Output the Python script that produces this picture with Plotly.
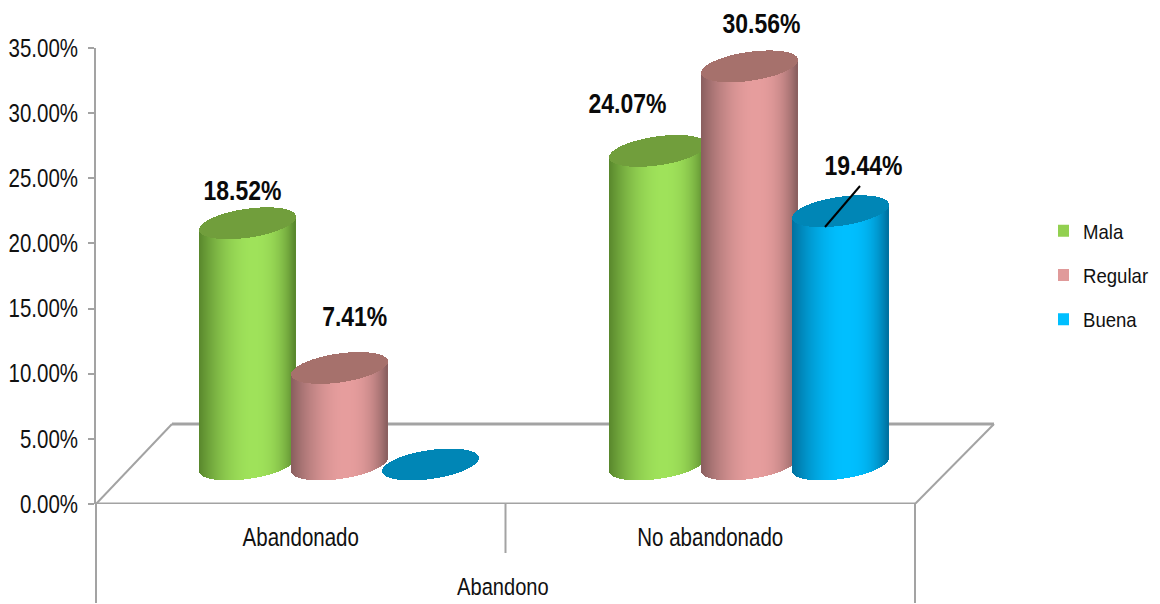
import plotly.graph_objects as go

categories = ["Abandonado", "No abandonado"]
series_names = ["Mala", "Regular", "Buena"]
mala = [18.52, 24.07]
regular = [7.41, 30.56]
buena = [0.0, 19.44]
y_ticks = [0, 5, 10, 15, 20, 25, 30, 35]

# label offsets from each cylinder's top (px)
label_dx = [[-6, -31], [15, 12], [0, 22]]
label_dy = [[33, 47], [51, 43], [0, 46]]

W, H = 1160, 604
L, R, T, B = 96, 1160, 48, 504
PX_X = (915 - 96) / 2
PX_Y = (B - T) / 35
FONT = "Liberation Sans, Arial, sans-serif"
GRAY = "#A3A3A3"
TEXT = "#111111"


def xd(px):
    return (px - L) / PX_X


def yd(px):
    return (B - px) / PX_Y


def xp(data_x):
    return data_x * PX_X / (R - L)


def yp(px):
    return (B - px) / (B - T)


styles = [
    dict(legend="#92D050", dark=(88, 134, 44), light=(159, 226, 90), top="#719E3C"),
    dict(legend="#E09A9A", dark=(136, 94, 94), light=(230, 157, 157), top="#A6716C"),
    dict(legend="#00BFFF", dark=(0, 112, 158), light=(0, 191, 255), top="#0086B6"),
]

depth_x = xd(172)
depth_y = yd(424)
base_level = yd(464.5)
half_w = 48 / PX_X
semi_b = 14.5 / PX_Y
tilt = 6.5 / PX_Y
group_gap = 91.5 / PX_X
group_step = 410 / PX_X
first_center = xd(339.5)
n_slices = 96


def mix(dark, light, f):
    return "rgb(%d,%d,%d)" % tuple(round(d + (l - d) * f) for d, l in zip(dark, light))


fig = go.Figure()
for g in range(len(categories)):
    center = first_center + g * group_step
    for s, values in enumerate([mala, regular, buena]):
        st = styles[s]
        cx = center + (s - 1) * group_gap
        top_level = base_level + values[g]
        xs, body_base, body_h, colors, top_base, top_h = [], [], [], [], [], []
        for i in range(n_slices):
            u = -1 + (2 * i + 1) / n_slices
            half = semi_b * (1 - u * u) ** 0.5
            slope = tilt * u
            xs.append(cx + u * half_w)
            lo = base_level + slope - half
            body_base.append(lo)
            body_h.append(top_level + slope - lo)
            peak = 0.1
            if u > peak:
                f = 1 - ((u - peak) / (1 - peak)) ** 2.6
            else:
                f = 1 - ((peak - u) / (1 + peak)) ** 1.8
            colors.append(mix(st["dark"], st["light"], f))
            top_base.append(top_level + slope - half)
            top_h.append(2 * half)
        w = 2 * half_w / n_slices * 1.08
        fig.add_bar(x=xs, y=body_h, base=body_base, width=w, marker=dict(color=colors, line_width=0),
                    showlegend=False, hoverinfo="skip")
        fig.add_bar(x=xs, y=top_h, base=top_base, width=w, marker=dict(color=st["top"], line_width=0),
                    showlegend=False, hoverinfo="skip")
        if values[g] > 0:
            fig.add_annotation(x=cx, y=top_level, xref="x", yref="y", text=f"{values[g]:.2f}%",
                               showarrow=False, xshift=label_dx[s][g], yshift=label_dy[s][g],
                               font=dict(family=FONT, size=28, color="#0a0a0a", weight="bold"))

for s, name in enumerate(series_names):
    fig.add_bar(x=[None], y=[None], name=name, legendgroup=name,
                marker=dict(color=styles[s]["legend"], line_width=0))

line = dict(color=GRAY, width=2)
shapes = [
    dict(type="line", x0=0, y0=0, x1=2, y1=0, line=dict(color=GRAY, width=3)),
    dict(type="line", x0=0, y0=0, x1=depth_x, y1=depth_y, line=line),
    dict(type="line", x0=depth_x, y0=depth_y, x1=xd(994), y1=depth_y, line=dict(color=GRAY, width=3)),
    dict(type="line", x0=xd(994), y0=depth_y, x1=2, y1=0, line=line),
]
for s in shapes:
    s.update(xref="x", yref="y", layer="below")
for x, py in [(0, 603), (1, 553), (2, 603)]:
    shapes.append(dict(type="line", xref="paper", yref="paper", x0=xp(x), x1=xp(x), y0=0, y1=yp(py),
                       line=line, layer="below"))
# leader line of the 19.44% label
shapes.append(dict(type="line", xref="x", yref="y", x0=xd(825), y0=yd(227), x1=xd(860), y1=yd(186),
                   line=dict(color="#000000", width=2), layer="above"))
fig.update_layout(shapes=shapes)

fig.add_annotation(x=xp(1), y=yp(586), xref="paper", yref="paper", text="Abandono", showarrow=False,
                   xanchor="center", yanchor="middle", xshift=-3,
                   font=dict(family=FONT, size=24.5, color=TEXT))

fig.update_layout(
    width=W, height=H, barmode="overlay", bargap=0, paper_bgcolor="white", plot_bgcolor="white",
    margin=dict(l=L, r=W - R, t=T, b=H - B, pad=0, autoexpand=False), font=dict(family=FONT, color=TEXT),
    showlegend=True,
    legend=dict(x=(1058 - L) / (R - L), xanchor="left", y=yp(275), yanchor="middle",
                font=dict(family=FONT, size=21, color=TEXT),
                tracegroupgap=14, indentation=-15, bgcolor="rgba(0,0,0,0)"),
    xaxis=dict(range=[0, (R - L) / PX_X], tickvals=[0.5, 1.5], ticktext=categories, showgrid=False, automargin=False,
               zeroline=False, showline=False, ticks="", ticklabelstandoff=16,
               tickfont=dict(family=FONT, size=25, color=TEXT)),
    yaxis=dict(range=[0, 35], tickvals=y_ticks, ticktext=[f"{v:.2f}%" for v in y_ticks], showgrid=False, automargin=False,
               zeroline=False, showline=True, linecolor=GRAY, linewidth=2, ticks="outside", ticklen=6,
               tickcolor=GRAY, tickwidth=2, ticklabelstandoff=5,
               tickfont=dict(family=FONT, size=25, color=TEXT)),
)

# The reference's Arial is horizontally squeezed; no narrow face is installed, so condense the real text glyphs.
post = """
document.body.style.margin='0';document.body.style.overflow='hidden';
function squeeze(){document.querySelectorAll('svg text').forEach(function(t){
  if(t.getAttribute('lengthAdjust')) return;
  var n=t.getComputedTextLength(); if(!n) return;
  var k=t.classList.contains('legendtext')?0.885:0.82;
  t.setAttribute('textLength',(n*k).toFixed(1));t.setAttribute('lengthAdjust','spacingAndGlyphs');});}
squeeze();setTimeout(squeeze,30);setTimeout(squeeze,200);
"""
fig.write_html("out.html", config=dict(displayModeBar=False), post_script=post)
